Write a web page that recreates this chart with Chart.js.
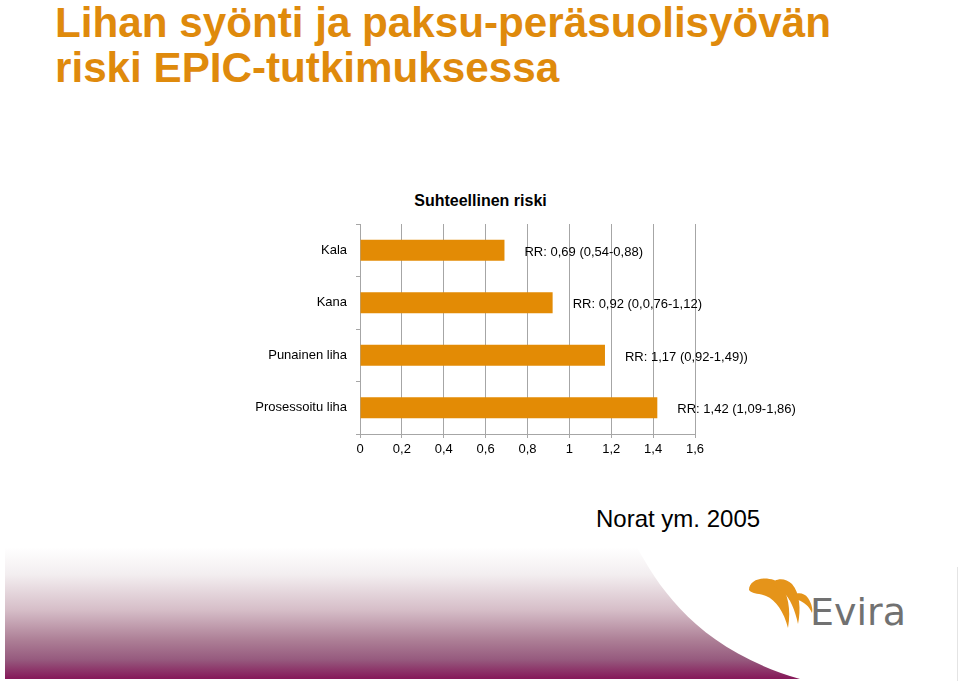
<!DOCTYPE html>
<html>
<head>
<meta charset="utf-8">
<script src="https://cdn.jsdelivr.net/npm/chart.js@4"></script>
<style>
  body { margin: 0; background: #fff; overflow: hidden; font-family: "Liberation Sans", Arial, sans-serif; }
  #page { position: relative; width: 960px; height: 681px; }
  #deco { position: absolute; left: 0; top: 0; }
  #wrap { position: absolute; left: 0; top: 180px; width: 960px; height: 300px; }
</style>
</head>
<body>
<div id="page">
  <svg id="deco" width="960" height="681" xmlns="http://www.w3.org/2000/svg">
    <defs>
      <linearGradient id="fade" x1="0" y1="547" x2="0" y2="678" gradientUnits="userSpaceOnUse">
        <stop offset="0" stop-color="#ffffff"/>
        <stop offset="0.21" stop-color="#f3eef0"/>
        <stop offset="0.48" stop-color="#d6bec8"/>
        <stop offset="0.71" stop-color="#ad7f96"/>
        <stop offset="0.86" stop-color="#965a7e"/>
        <stop offset="1" stop-color="#861a5a"/>
      </linearGradient>
    </defs>
    <path d="M5,547 L637,547 C660,590 700,650 800,679 L5,679 Z" fill="url(#fade)"/>
    <line x1="957.5" y1="567" x2="957.5" y2="681" stroke="#e4e4e4" stroke-width="1"/>
    <text x="55" y="37" font-family="Liberation Sans, Arial" font-weight="bold" font-size="42.2" fill="#df8a0c">Lihan syönti ja paksu-peräsuolisyövän</text>
    <text x="55" y="82" font-family="Liberation Sans, Arial" font-weight="bold" font-size="42.2" fill="#df8a0c">riski EPIC-tutkimuksessa</text>
    <text x="480.5" y="206" text-anchor="middle" font-family="Liberation Sans, Arial" font-weight="bold" font-size="16" fill="#000">Suhteellinen riski</text>
    <text x="596" y="527" font-family="Liberation Sans, Arial" font-size="24" fill="#000">Norat ym. 2005</text>
    <!-- Evira logo -->
    <path d="M749,590 C749,580 762,576 774,580 C786,585 792,605 788,628 C784,612 776,600 766,596 C758,593 752,594 749,590 Z" fill="#e5941a"/>
    <path d="M771,585 C774,578 785,577 792,584 C800,593 801,610 798,624 C795,610 790,598 783,592 C779,589 775,587 771,585 Z" fill="#e5941a"/>
    <path d="M789,600 C793,592 803,591 808,598 C812,604 813,610 812,613 C809,606 804,602 798,600 C795,599 792,599 789,600 Z" fill="#e5941a"/>
    <text x="810" y="625" font-family="DejaVu Sans, sans-serif" font-size="38" fill="#717171">Evira</text>
  </svg>
  <div id="wrap"><canvas id="barChart"></canvas></div>
</div>
<script>
// Categories and relative risks
const categories = ['Kala', 'Kana', 'Punainen liha', 'Prosessoitu liha'];
const riskValues = [0.69, 0.92, 1.17, 1.42];
const riskLabels = ['RR: 0,69 (0,54-0,88)', 'RR: 0,92 (0,0,76-1,12)', 'RR: 1,17 (0,92-1,49))', 'RR: 1,42 (1,09-1,86)'];
const xTicks = [0, 0.2, 0.4, 0.6, 0.8, 1, 1.2, 1.4, 1.6];

const fontFam = '"Liberation Sans", Arial, sans-serif';
const gridGrey = '#a6a6a6';

// Write the RR text to the right of each bar
const rrLabels = {
    id: 'rrLabels',
    afterDatasetsDraw(chart) {
        const ctx = chart.ctx;
        const meta = chart.getDatasetMeta(0);
        ctx.save();
        ctx.font = '13px ' + fontFam;
        ctx.fillStyle = '#000';
        ctx.textAlign = 'left';
        ctx.textBaseline = 'middle';
        meta.data.forEach(function(bar, i) {
            ctx.fillText(riskLabels[i], bar.x + 20, bar.y + 2);
        });
        ctx.restore();
    }
};

const ctx = document.getElementById('barChart').getContext('2d');
const barChart = new Chart(ctx, {
    type: 'bar',
    data: {
        labels: categories,
        datasets: [{
            label: 'Suhteellinen riski',
            data: riskValues,
            backgroundColor: '#e38b05',
            borderWidth: 0,
            barPercentage: 0.4,
            categoryPercentage: 1
        }]
    },
    options: {
        indexAxis: 'y',
        responsive: true,
        maintainAspectRatio: false,
        animation: false,
        // chart area: x 360..695, y 224..434 on the page
        layout: { padding: { left: 200, right: 265, top: 44, bottom: 16 } },
        scales: {
            x: {
                min: 0,
                max: 1.6,
                afterFit: function(scale) { scale.height = 30; },
                afterBuildTicks: function(scale) {
                    scale.ticks = xTicks.map(v => ({ value: v }));
                },
                grid: { color: gridGrey, tickLength: 4, drawTicks: true },
                border: { color: gridGrey },
                ticks: {
                    padding: 4,
                    color: '#000',
                    font: { family: fontFam, size: 13 },
                    callback: function(v) { return String(Math.round(v * 10) / 10).replace('.', ','); }
                }
            },
            y: {
                afterFit: function(scale) { scale.width = 160; },
                grid: { drawOnChartArea: false, color: gridGrey, tickLength: 4, offset: true },
                border: { color: gridGrey },
                ticks: {
                    padding: 9,
                    color: '#000',
                    font: { family: fontFam, size: 13 }
                }
            }
        },
        plugins: {
            legend: { display: false },
            tooltip: { enabled: false },
            title: { display: false }
        }
    },
    plugins: [rrLabels]
});
</script>
</body>
</html>
